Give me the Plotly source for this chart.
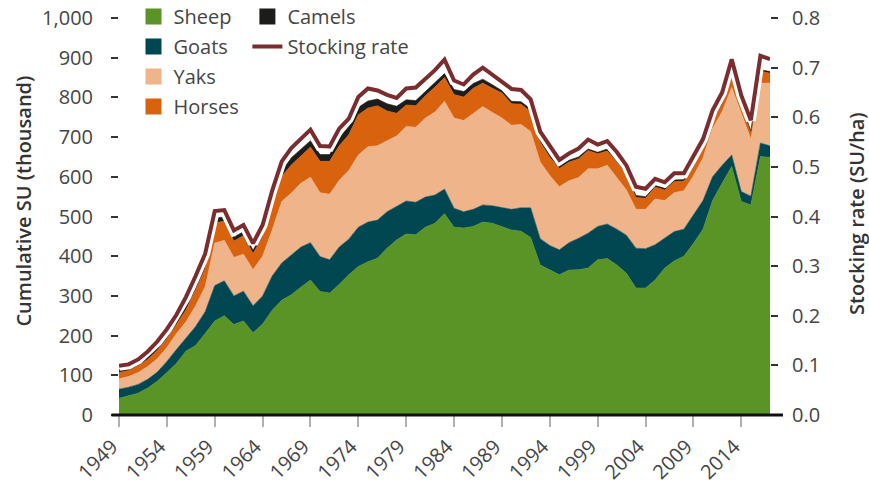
import plotly.graph_objects as go

years = list(range(1949, 2018))

sheep = [42, 48, 55, 68, 85, 107, 130, 161, 175, 205,
         237, 250, 228, 237, 207, 229, 264, 289, 303, 322,
         340, 311, 307, 329, 353, 374, 386, 395, 420, 441,
         456, 454, 473, 483, 507, 473, 471, 475, 486, 483,
         474, 466, 463, 447, 378, 366, 353, 365, 366, 370,
         391, 394, 378, 357, 320, 320, 340, 370, 388, 400,
         432, 468, 540, 584, 626, 538, 529, 651, 649]
goats = [23, 22, 22, 22, 23, 28, 35, 32, 48, 55,
         89, 88, 72, 75, 68, 71, 86, 94, 100, 101,
         94, 88, 84, 94, 90, 99, 100, 96, 92, 84,
         83, 82, 76, 71, 62, 48, 41, 43, 43, 44,
         48, 52, 59, 75, 66, 61, 63, 69, 79, 88,
         84, 87, 90, 96, 100, 99, 89, 76, 74, 68,
         71, 72, 60, 45, 29, 25, 22, 34, 29]
yaks = [26, 27, 30, 32, 34, 35, 40, 42, 52, 63,
        107, 102, 97, 93, 91, 100, 116, 155, 156, 161,
        165, 161, 165, 168, 173, 182, 190, 187, 179, 178,
        188, 189, 199, 209, 221, 227, 230, 241, 248, 235,
        226, 212, 210, 192, 193, 176, 159, 156, 153, 162,
        145, 148, 129, 114, 98, 99, 115, 94, 98, 97,
        99, 108, 122, 135, 170, 197, 144, 151, 158]
horses = [16, 15, 17, 18, 21, 22, 23, 30, 40, 46,
          51, 48, 41, 47, 41, 48, 68, 63, 71, 69,
          76, 79, 83, 87, 90, 101, 97, 101, 75, 57,
          54, 54, 56, 63, 60, 59, 59, 64, 59, 61,
          63, 54, 51, 50, 50, 46, 46, 47, 47, 46,
          38, 36, 40, 38, 30, 28, 30, 27, 28, 24,
          22, 24, 22, 18, 25, 18, 17, 30, 25]
camels = [8, 7, 7, 8, 8, 9, 10, 11, 12, 13,
          12, 11, 10, 10, 8, 10, 13, 13, 18, 17,
          16, 17, 17, 20, 21, 19, 18, 17, 18, 18,
          13, 13, 11, 12, 10, 13, 14, 12, 10, 9,
          6, 6, 6, 7, 6, 6, 5, 5, 5, 4,
          4, 5, 5, 5, 5, 4, 4, 4, 4, 4,
          4, 4, 4, 4, 4, 4, 4, 4, 4]
stocking_rate = [0.099, 0.102, 0.112, 0.128, 0.148, 0.173, 0.202, 0.238, 0.280, 0.325,
                 0.411, 0.413, 0.372, 0.383, 0.346, 0.383, 0.452, 0.511, 0.538, 0.556,
                 0.575, 0.542, 0.541, 0.577, 0.597, 0.641, 0.658, 0.654, 0.645, 0.639,
                 0.658, 0.660, 0.678, 0.695, 0.716, 0.674, 0.666, 0.686, 0.700, 0.685,
                 0.670, 0.657, 0.655, 0.636, 0.571, 0.541, 0.514, 0.527, 0.537, 0.555,
                 0.545, 0.552, 0.530, 0.503, 0.460, 0.456, 0.476, 0.469, 0.487, 0.487,
                 0.521, 0.556, 0.614, 0.650, 0.717, 0.644, 0.594, 0.724, 0.717]

series_names = ["Sheep", "Goats", "Yaks", "Horses", "Camels"]
series_colors = ["#5b9426", "#004752", "#efb48a", "#d9620f", "#1c1c1a"]
line_name = "Stocking rate"
line_color = "#7b2c2e"

x_tick_years = [1949, 1954, 1959, 1964, 1969, 1974, 1979, 1984, 1989, 1994, 1999, 2004, 2009, 2014]
left_ticks = [0, 100, 200, 300, 400, 500, 600, 700, 800, 900, 1000]
left_tick_labels = ["0", "100", "200", "300", "400", "500", "600", "700", "800", "900", "1,000"]
right_ticks = [0, 0.1, 0.2, 0.3, 0.4, 0.5, 0.6, 0.7, 0.8]
right_tick_labels = ["0.0", "0.1", "0.2", "0.3", "0.4", "0.5", "0.6", "0.7", "0.8"]

FONT = "Open Sans"
TXT = "#454545"

fig = go.Figure()

values = [sheep, goats, yaks, horses, camels]
for name, vals, col in zip(series_names, values, series_colors):
    fig.add_trace(go.Scatter(x=years, y=vals, stackgroup="su", mode="lines",
                             line=dict(width=0.6, color=col), fillcolor=col,
                             name=name, showlegend=False))

# stocking rate: white halo then the red line
fig.add_trace(go.Scatter(x=years, y=stocking_rate, yaxis="y2", mode="lines",
                         line=dict(color="white", width=10), showlegend=False,
                         hoverinfo="skip"))
fig.add_trace(go.Scatter(x=years, y=stocking_rate, yaxis="y2", mode="lines",
                         line=dict(color=line_color, width=4), name=line_name,
                         showlegend=False))

# legend entries
for name, col in zip(series_names[:4], series_colors[:4]):
    fig.add_trace(go.Scatter(x=[None], y=[None], mode="markers",
                             marker=dict(symbol="square", size=16, color=col),
                             name=name, legend="legend", legendgroup=name))
fig.add_trace(go.Scatter(x=[None], y=[None], mode="markers",
                         marker=dict(symbol="square", size=16, color=series_colors[4]),
                         name=series_names[4], legend="legend2", legendgroup="c"))
fig.add_trace(go.Scatter(x=[None], y=[None], mode="lines",
                         line=dict(color=line_color, width=4),
                         name=line_name, legend="legend2", legendgroup="s"))

W, H = 869, 485
L, R, T, B = 118.5, 99, 18, 70
pw = W - L - R
ph = H - T - B

def px_x(p):
    return (p - L) / pw

def px_y(p):
    return (H - B - p) / ph

leg_common = dict(xanchor="left", yanchor="top", bgcolor="rgba(0,0,0,0)",
                  font=dict(family=FONT, size=20, color=TXT), tracegroupgap=1,
                  orientation="v", borderwidth=0)

fig.update_layout(
    width=W, height=H,
    margin=dict(l=L, r=R, t=T, b=B, autoexpand=False),
    paper_bgcolor="white", plot_bgcolor="white",
    font=dict(family=FONT, size=20, color=TXT),
    showlegend=True,
    xaxis=dict(range=[1949, 2017], tickmode="array", tickvals=x_tick_years,
               ticktext=[str(v) for v in x_tick_years], tickangle=-45,
               ticks="outside", ticklen=11, tickwidth=1.5, tickcolor="#b0b0b0",
               showgrid=False, zeroline=False, showline=False,
               ticklabelshift=-7,
               tickfont=dict(family=FONT, size=20, color=TXT)),
    yaxis=dict(range=[0, 1000], tickmode="array", tickvals=left_ticks,
               ticktext=left_tick_labels, ticks="outside", ticklen=7, tickwidth=1.5,
               tickcolor="#333333", showgrid=False, zeroline=False, showline=False,
               ticklabelstandoff=14, tickfont=dict(family=FONT, size=20, color=TXT)),
    yaxis2=dict(range=[0, 0.8], overlaying="y", side="right", tickmode="array",
                tickvals=right_ticks, ticktext=right_tick_labels, ticks="outside",
                ticklen=7, tickwidth=1.5, tickcolor="#333333", showgrid=False,
                zeroline=False, showline=False, ticklabelstandoff=10,
                tickfont=dict(family=FONT, size=20, color=TXT)),
    legend=dict(x=px_x(133), y=px_y(-3), **leg_common),
    legend2=dict(x=px_x(247), y=px_y(-3), **leg_common),
    shapes=[dict(type="line", xref="paper", yref="paper", x0=px_x(111), x1=px_x(783),
                 y0=0, y1=0, line=dict(color="#111111", width=3), layer="above")],
    annotations=[
        dict(text="Cumulative SU (thousand)", textangle=-90, xref="paper", yref="paper",
             x=px_x(22), y=px_y(201), xanchor="center", yanchor="middle", showarrow=False,
             font=dict(family=FONT, size=20, color="#333333", weight=600)),
        dict(text="Stocking rate (SU/ha)", textangle=-90, xref="paper", yref="paper",
             x=px_x(857), y=px_y(213), xanchor="center", yanchor="middle", showarrow=False,
             font=dict(family=FONT, size=20, color="#333333", weight=600)),
    ],
)

fig.write_html("out.html", config={"displayModeBar": False},
               post_script="document.body.style.margin='0px';document.body.style.padding='0px';")
